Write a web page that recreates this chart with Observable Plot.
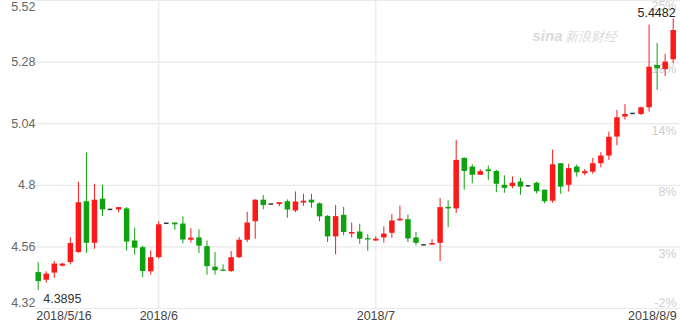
<!DOCTYPE html>
<html><head><meta charset="utf-8">
<script src="https://cdn.jsdelivr.net/npm/d3@7"></script>
<script src="https://cdn.jsdelivr.net/npm/@observablehq/plot@0.6"></script>
<style>
html,body{margin:0;padding:0;background:#fff;}
#chart{width:680px;height:323px;overflow:hidden;}
</style></head><body><div id="chart"></div>
<script>
// OHLC values (one per trading session, 2018/5/16 – 2018/8/9)
const opens = [4.460,4.430,4.458,4.485,4.499,4.538,4.736,4.574,4.746,4.706,
  4.704,4.708,4.583,4.557,4.463,4.518,4.652,4.653,4.649,4.586,
  4.595,4.561,4.481,4.470,4.464,4.518,4.586,4.658,4.742,4.727,
  4.725,4.736,4.700,4.731,4.742,4.728,4.679,4.599,4.683,4.610,
  4.618,4.592,4.583,4.595,4.613,4.662,4.666,4.595,4.568,4.567,
  4.574,4.714,4.708,4.905,4.871,4.839,4.860,4.854,4.800,4.795,
  4.813,4.798,4.808,4.781,4.738,4.884,4.800,4.871,4.845,4.851,
  4.884,4.914,4.988,5.066,5.080,5.076,5.102,5.267,5.251,5.289];
const highs = [4.498,4.463,4.503,4.496,4.595,4.812,4.926,4.804,4.800,4.706,
  4.713,4.713,4.633,4.563,4.544,4.658,4.652,4.653,4.677,4.631,
  4.626,4.583,4.538,4.490,4.542,4.596,4.695,4.744,4.760,4.727,
  4.732,4.743,4.774,4.765,4.765,4.731,4.682,4.721,4.714,4.653,
  4.648,4.608,4.599,4.638,4.686,4.719,4.684,4.616,4.568,4.588,
  4.749,4.740,4.975,4.907,4.880,4.861,4.875,4.858,4.837,4.833,
  4.827,4.798,4.812,4.781,4.937,4.884,4.882,4.879,4.862,4.905,
  4.927,5.007,5.092,5.114,5.080,5.105,5.424,5.353,5.310,5.4482];
const lows = [4.3895,4.419,4.438,4.482,4.490,4.535,4.535,4.551,4.678,4.706,
  4.693,4.544,4.528,4.440,4.450,4.512,4.652,4.625,4.572,4.574,
  4.534,4.450,4.450,4.464,4.460,4.514,4.577,4.590,4.705,4.727,
  4.717,4.672,4.693,4.718,4.711,4.658,4.577,4.529,4.603,4.594,
  4.570,4.543,4.581,4.575,4.594,4.658,4.577,4.564,4.568,4.567,
  4.503,4.635,4.690,4.781,4.806,4.839,4.819,4.771,4.769,4.787,
  4.761,4.798,4.767,4.728,4.730,4.765,4.774,4.832,4.837,4.843,
  4.868,4.897,4.954,5.054,5.080,5.072,5.085,5.170,5.224,5.273];
const closes = [4.425,4.454,4.493,4.493,4.573,4.732,4.574,4.742,4.704,4.706,
  4.713,4.579,4.555,4.464,4.518,4.646,4.652,4.646,4.587,4.594,
  4.563,4.483,4.467,4.465,4.518,4.586,4.653,4.742,4.721,4.727,
  4.732,4.704,4.735,4.738,4.731,4.677,4.599,4.678,4.616,4.616,
  4.590,4.587,4.590,4.610,4.661,4.668,4.591,4.574,4.568,4.573,
  4.713,4.708,4.897,4.854,4.839,4.853,4.853,4.804,4.788,4.808,
  4.793,4.798,4.775,4.736,4.880,4.793,4.865,4.849,4.853,4.884,
  4.914,4.987,5.063,5.076,5.080,5.102,5.260,5.254,5.280,5.403];

const yTicks = [4.32, 4.56, 4.8, 5.04, 5.28, 5.52];
const yTickLabels = ["4.32", "4.56", "4.8", "5.04", "5.28", "5.52"];
const pctLabels = ["-2%", "3%", "8%", "14%", "19%", "25%"];
const xTickIndex = [0, 15, 42, 79];
const xTickLabels = ["2018/5/16", "2018/6", "2018/7", "2018/8/9"];
const watermarkLogo = "sina";
const watermarkText = "新浪财经";

const RED = "#fb1a1a", GREEN = "#0ea30e", DOJI = "#333";
const candles = opens.map((o, i) => ({i, o, h: highs[i], l: lows[i], c: closes[i]}));
const bars = candles.filter(d => d.o !== d.c);
const dojis = candles.filter(d => d.o === d.c);
const col = d => d.c > d.o ? RED : GREEN;
const yAxis = yTicks.map((v, k) => ({v, label: yTickLabels[k], pct: pctLabels[k], k}));
const last = yTicks.length - 1;
const xAxis = xTickIndex.map((i, k) => ({i, label: xTickLabels[k], k}));
const minI = d3.minIndex(lows), maxI = d3.maxIndex(highs);

const font = "'Liberation Sans', Arial, Helvetica, sans-serif";
const chart = Plot.plot({
  width: 680, height: 323,
  marginLeft: 35, marginRight: 0, marginTop: 0, marginBottom: 15,
  x: {type: "linear", domain: [-0.336, 79.908], axis: null},
  y: {domain: [4.32, 5.52], axis: null},
  color: {type: "identity"},
  style: {fontFamily: font, fontSize: "12.5px", background: "#fff", overflow: "visible"},
  marks: [
    Plot.ruleY(yTicks, {stroke: "#e9e9e9", strokeWidth: 1.2}),
    Plot.ruleX(xTickIndex.slice(1, 3), {stroke: "#e9e9e9", strokeWidth: 1.2}),
    // watermark
    Plot.text([watermarkLogo], {frameAnchor: "top-left", dx: 497, dy: 30, textAnchor: "start",
      fill: "#dadada", fontStyle: "italic", fontWeight: "bold", fontSize: 15}),
    Plot.text([watermarkText], {frameAnchor: "top-left", dx: 529, dy: 31, textAnchor: "start",
      fill: "#dadada", fontStyle: "italic", fontSize: 13}),
    // left axis labels
    Plot.text(yAxis.filter(d => d.k > 0 && d.k < last), {y: "v", text: "label", frameAnchor: "left", textAnchor: "end", dx: 0, fill: "#666"}),
    Plot.text(yAxis.filter(d => d.k === last), {y: "v", text: "label", frameAnchor: "left", textAnchor: "end", lineAnchor: "top", dy: 2, fill: "#666"}),
    Plot.text(yAxis.filter(d => d.k === 0), {y: "v", text: "label", frameAnchor: "left", textAnchor: "end", lineAnchor: "bottom", dy: -1.5, fill: "#666"}),
    // right percent labels
    Plot.text(yAxis.filter(d => d.k > 0 && d.k < last), {y: "v", text: "pct", frameAnchor: "right", textAnchor: "end", lineAnchor: "top", dx: -4, dy: 2, fill: "#cfcfcf"}),
    Plot.text(yAxis.filter(d => d.k === last), {y: "v", text: "pct", frameAnchor: "right", textAnchor: "end", lineAnchor: "top", dx: -4, dy: 1, fill: "#cfcfcf"}),
    Plot.text(yAxis.filter(d => d.k === 0), {y: "v", text: "pct", frameAnchor: "right", textAnchor: "end", lineAnchor: "bottom", dx: -4, dy: -2, fill: "#cfcfcf"}),
    // candles
    Plot.ruleX(bars, {x: "i", y1: "l", y2: "h", stroke: col, strokeWidth: 1}),
    Plot.ruleX(bars, {x: "i", y1: "o", y2: "c", stroke: col, strokeWidth: 5.5}),
    Plot.ruleY(dojis, {y: "c", x1: d => d.i - 0.28, x2: d => d.i + 0.28, stroke: DOJI, strokeWidth: 1.5}),
    // x labels
    Plot.text(xAxis.filter(d => d.k === 0), {x: "i", text: "label", frameAnchor: "bottom", lineAnchor: "top", textAnchor: "start", dx: -2, dy: 2.5, fill: "#444"}),
    Plot.text(xAxis.filter(d => d.k > 0 && d.k < xAxis.length - 1), {x: "i", text: "label", frameAnchor: "bottom", lineAnchor: "top", dy: 2.5, fill: "#444"}),
    Plot.text(xAxis.filter(d => d.k === xAxis.length - 1), {x: "i", text: "label", frameAnchor: "bottom", lineAnchor: "top", textAnchor: "end", dx: 3.5, dy: 2.5, fill: "#444"}),
    // min / max annotations
    Plot.text([candles[minI]], {x: "i", y: "l", text: d => String(d.l), textAnchor: "start", dx: 5, dy: 8, fill: "#333"}),
    Plot.text([candles[maxI]], {x: "i", y: "h", text: d => String(d.h), textAnchor: "end", dx: 2.5, dy: -6, fill: "#222"})
  ]
});
document.getElementById("chart").appendChild(chart);
</script>
</body></html>
